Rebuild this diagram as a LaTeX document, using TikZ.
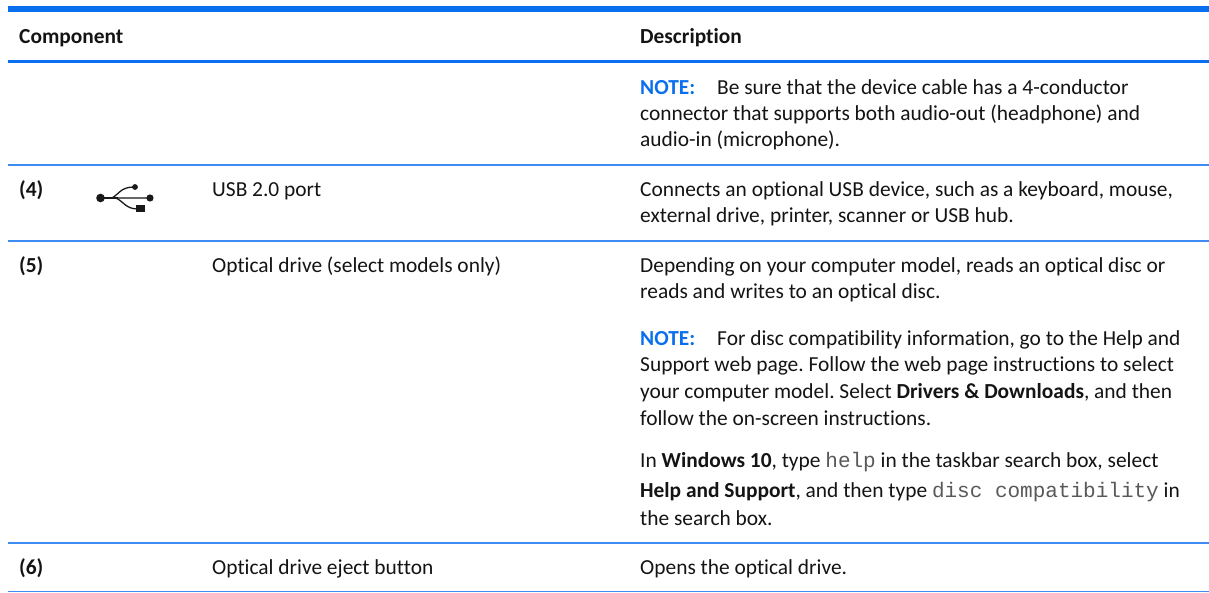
\documentclass[tikz,border=0pt]{standalone}
\usepackage{fontspec}
\setmainfont[Ligatures=NoCommon]{Carlito}
\setmonofont{Liberation Mono}
\definecolor{hpblue}{HTML}{0A6FEF}
\definecolor{rowblue}{HTML}{3F8DF2}
\definecolor{notec}{HTML}{0A6FEF}
\newcommand{\nt}{\textcolor{notec}{\textbf{NOTE:}}\hspace{22pt}}
\newcommand{\mon}[1]{{\fontspec{Liberation Mono}\color{black!65}\fontsize{21}{26}\selectfont #1}}
\frenchspacing
\begin{document}
\begin{tikzpicture}[x=1pt,y=-1pt,
  txt/.style={anchor=base west,inner sep=0pt,font=\fontsize{21.4}{26}\selectfont,text=black!92},
  rulel/.style={draw=rowblue,line width=1.3pt}]
\useasboundingbox (0,0) rectangle (1209,593);
\fill[white] (0,0) rectangle (1209,593);
\fill[hpblue] (8,6) rectangle (1209,12);
\draw[hpblue,line width=3pt] (8,61.7)--(1209,61.7);
\draw[rulel] (8,165)--(1209,165);
\draw[rulel] (8,241)--(1209,241);
\draw[rulel] (8,543)--(1209,543);
\draw[rulel] (8,591.7)--(1209,591.7);
\node[txt] at (19,43.5) {\textbf{Component}};
\node[txt] at (640,43.5) {\textbf{Description}};
\node[txt] at (640,94.5) {\nt Be sure that the device cable has a 4-conductor};
\node[txt] at (640,121) {connector that supports both audio-out (headphone) and};
\node[txt] at (640,147) {audio-in (microphone).};
\node[txt] at (19,197) {\textbf{(4)}};
\node[txt] at (212,197) {USB 2.0 port};
\node[txt] at (640,197) {Connects an optional USB device, such as a keyboard, mouse,};
\node[txt] at (640,223) {external drive, printer, scanner or USB hub.};
\node[txt] at (19,273) {\textbf{(5)}};
\node[txt] at (212,273) {Optical drive (select models only)};
\node[txt] at (640,273) {Depending on your computer model, reads an optical disc or};
\node[txt] at (640,299) {reads and writes to an optical disc.};
\node[txt] at (640,345) {\nt For disc compatibility information, go to the Help and};
\node[txt] at (640,371) {Support web page. Follow the web page instructions to select};
\node[txt] at (640,398) {your computer model. Select \textbf{Drivers \& Downloads}, and then};
\node[txt] at (640,425) {follow the on-screen instructions.};
\node[txt] at (640,467) {In \textbf{Windows 10}, type \mon{help} in the taskbar search box, select};
\node[txt] at (640,497) {\textbf{Help and Support}, and then type \mon{disc compatibility} in};
\node[txt] at (640,525) {the search box.};
\node[txt] at (19,574) {\textbf{(6)}};
\node[txt] at (212,574) {Optical drive eject button};
\node[txt] at (640,574) {Opens the optical drive.};
% USB symbol
\fill[black!90] (100.5,198) circle (4.3);
\draw[black!90,line width=1.4pt] (100,198)--(118,198);
\draw[black!60,line width=2.6pt] (118,198)--(150,198);
\fill[black!90] (150,198) circle (3.6);
\draw[black!90,line width=1.3pt] (112,198) .. controls (119,194) and (121,187) .. (134,187);
\fill[black!90] (135,187) circle (2.9);
\draw[black!90,line width=1.3pt] (116,198) .. controls (124,202) and (126,209) .. (138,209);
\fill[black!90] (136,205.5) rectangle (144.5,212.5);
\end{tikzpicture}
\end{document}
